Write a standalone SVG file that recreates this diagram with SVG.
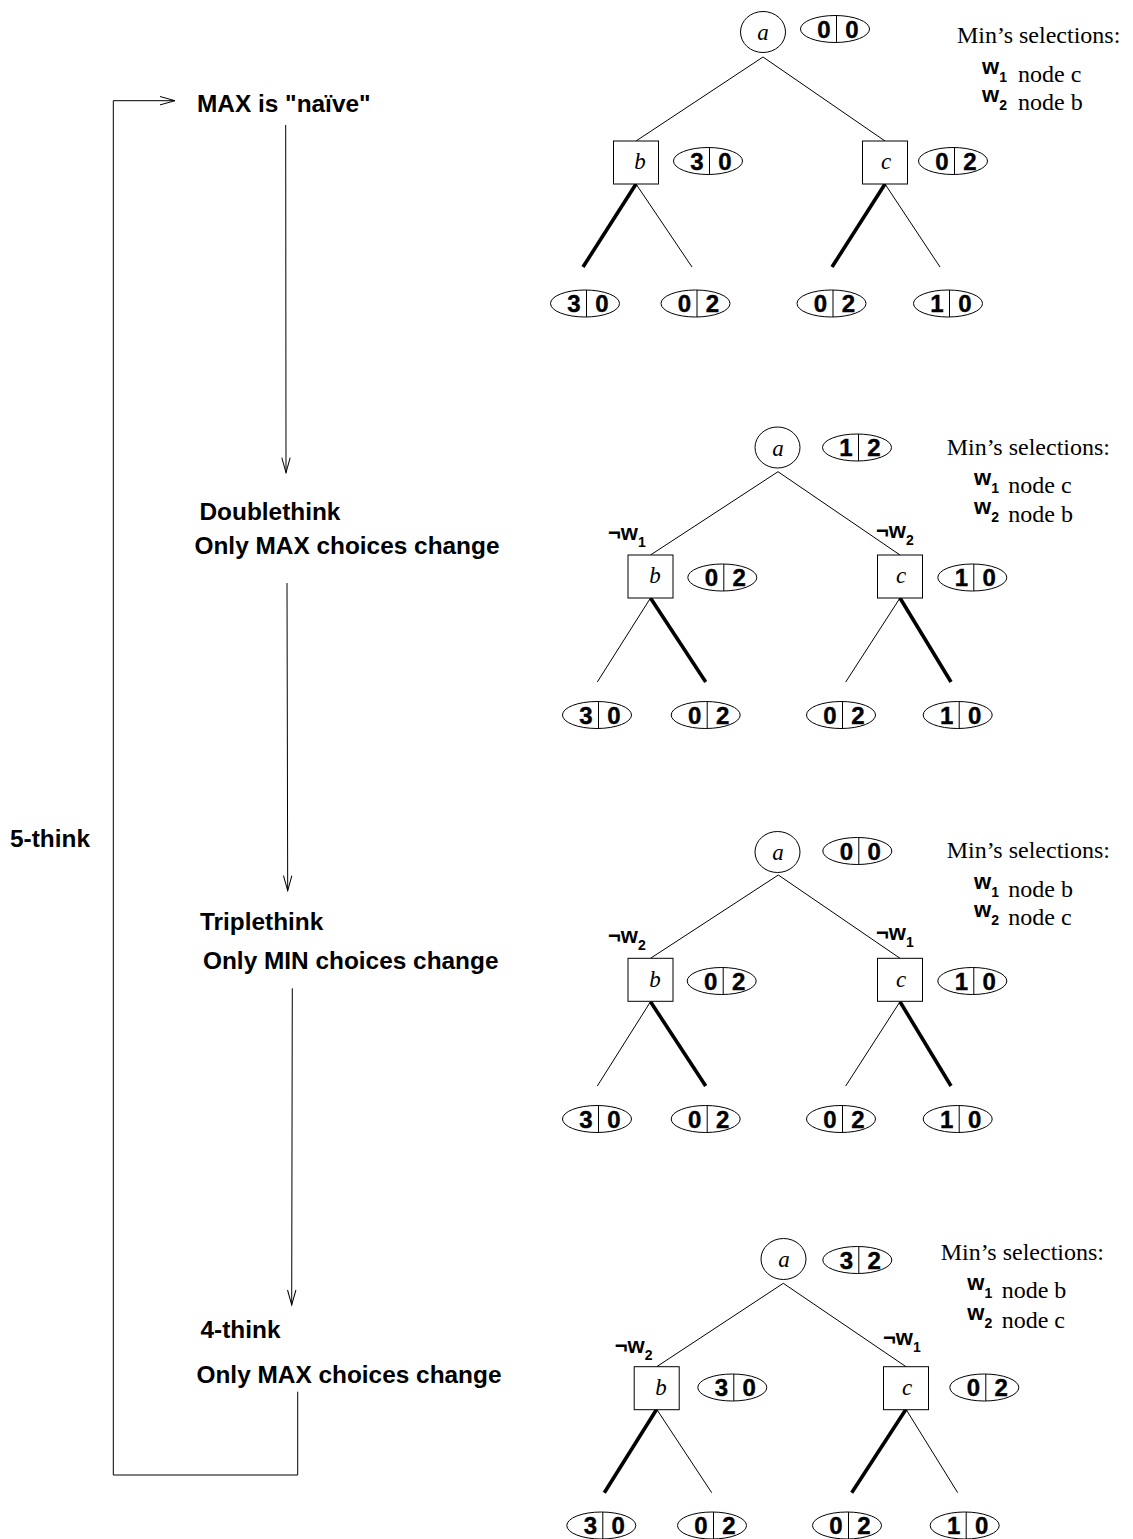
<svg xmlns="http://www.w3.org/2000/svg" xmlns:xlink="http://www.w3.org/1999/xlink" width="1133" height="1539" viewBox="0 0 1133 1539">
<style>
.lab{font-family:"Liberation Sans",Arial,sans-serif;font-weight:bold;font-size:24.4px;fill:#000}
.serif{font-family:"Liberation Serif","Times New Roman",serif;font-size:24px;fill:#000}
.it{font-family:"Liberation Serif","Times New Roman",serif;font-style:italic;font-size:23px;text-anchor:middle;fill:#000}
.val{font-family:"Liberation Sans",Arial,sans-serif;font-weight:bold;font-size:24px;text-anchor:middle;fill:#000;stroke:#000;stroke-width:0.4}
.w{font-family:"Liberation Sans",Arial,sans-serif;font-weight:bold;font-size:22px;fill:#000}
.sub{font-size:14px}
.shape{fill:#fff;stroke:#000;stroke-width:1}
.edge{stroke:#000;stroke-width:1;fill:none}
.sel{stroke:#000;stroke-width:3.6;fill:none}
</style>
<defs>
<marker id="arr" markerUnits="userSpaceOnUse" markerWidth="18" markerHeight="12" viewBox="-16 -6 18 12" refX="0" refY="0" orient="auto">
<path d="M-15,-4.2 L0,0 L-15,4.2" fill="none" stroke="#000" stroke-width="1"/>
</marker>
<ellipse id="oval" cx="0" cy="0" rx="34.5" ry="13.5" class="shape"/>
<line id="div" x1="1.5" y1="-13.5" x2="1.5" y2="13.5" class="edge"/>
<ellipse id="root" cx="0" cy="0" rx="22.5" ry="20.5" class="shape"/>
<rect id="box" x="-22.5" y="0" width="45" height="43" class="shape"/>
</defs>
<rect width="1133" height="1539" fill="#fff"/>

<g id="connectors">
<polyline class="edge" points="297.7,1391.7 297.7,1475 113.3,1475 113.3,100.7 175,100.7" marker-end="url(#arr)"/>
<line class="edge" x1="285.7" y1="125" x2="286" y2="472.7" marker-end="url(#arr)"/>
<line class="edge" x1="287" y1="583" x2="287.7" y2="890.7" marker-end="url(#arr)"/>
<line class="edge" x1="292.3" y1="988.3" x2="291.7" y2="1305" marker-end="url(#arr)"/>
<!-- tree 1 -->
<line class="edge" x1="763" y1="57" x2="636" y2="141"/>
<line class="edge" x1="763" y1="57" x2="885" y2="141"/>
<line class="sel" x1="636" y1="184" x2="583" y2="267"/>
<line class="edge" x1="636" y1="184" x2="692" y2="267"/>
<line class="sel" x1="885" y1="184" x2="832" y2="267"/>
<line class="edge" x1="885" y1="184" x2="940" y2="267"/>
<!-- tree 2 -->
<line class="edge" x1="778" y1="471.7" x2="650.5" y2="555"/>
<line class="edge" x1="778" y1="471.7" x2="900" y2="555"/>
<line class="edge" x1="650.5" y1="598" x2="597.3" y2="682"/>
<line class="sel" x1="650.5" y1="598" x2="705.7" y2="682"/>
<line class="edge" x1="900" y1="598" x2="845.7" y2="682"/>
<line class="sel" x1="900" y1="598" x2="951" y2="682"/>
<!-- tree 3 -->
<line class="edge" x1="778.3" y1="875" x2="650.5" y2="958.3"/>
<line class="edge" x1="778.3" y1="875" x2="900" y2="958.3"/>
<line class="edge" x1="650.5" y1="1001.7" x2="597.3" y2="1086"/>
<line class="sel" x1="650.5" y1="1001.7" x2="705.7" y2="1086"/>
<line class="edge" x1="900" y1="1001.7" x2="845.7" y2="1086"/>
<line class="sel" x1="900" y1="1001.7" x2="951" y2="1086"/>
<!-- tree 4 -->
<line class="edge" x1="783.3" y1="1283.3" x2="656.7" y2="1366.7"/>
<line class="edge" x1="783.3" y1="1283.3" x2="906" y2="1366.7"/>
<line class="sel" x1="656.7" y1="1409.3" x2="604.3" y2="1492.7"/>
<line class="edge" x1="656.7" y1="1409.3" x2="711.7" y2="1492.7"/>
<line class="sel" x1="906" y1="1409.3" x2="851.7" y2="1492.7"/>
<line class="edge" x1="906" y1="1409.3" x2="957.7" y2="1492.7"/>
</g>

<g id="labels">
<text class="lab" x="197" y="111.7">MAX is &quot;naïve&quot;</text>
<text class="lab" x="199.5" y="520">Doublethink</text>
<text class="lab" x="194.5" y="554">Only MAX choices change</text>
<text class="lab" x="200" y="930">Triplethink</text>
<text class="lab" x="203" y="969.3">Only MIN choices change</text>
<text class="lab" x="200.5" y="1338">4-think</text>
<text class="lab" x="196.5" y="1382.7">Only MAX choices change</text>
<text class="lab" x="10" y="846.7">5-think</text>
</g>

<!-- TREE 1 -->
<g id="t1-a"><use xlink:href="#root" x="763" y="32"/><text class="it" x="763" y="40">a</text></g>
<g id="t1-a-val" transform="translate(835,29)"><use xlink:href="#oval"/><use xlink:href="#div"/><text class="val" x="-11" y="8.5">0</text><text class="val" x="17" y="8.5">0</text></g>
<g id="t1-b"><use xlink:href="#box" x="636" y="141"/><text class="it" x="640" y="169">b</text></g>
<g id="t1-b-val" transform="translate(708,161)"><use xlink:href="#oval"/><use xlink:href="#div"/><text class="val" x="-11" y="8.5">3</text><text class="val" x="17" y="8.5">0</text></g>
<g id="t1-c"><use xlink:href="#box" x="885" y="141"/><text class="it" x="886" y="169">c</text></g>
<g id="t1-c-val" transform="translate(953,161)"><use xlink:href="#oval"/><use xlink:href="#div"/><text class="val" x="-11" y="8.5">0</text><text class="val" x="17" y="8.5">2</text></g>
<g id="t1-leaf1" transform="translate(585,303.5)"><use xlink:href="#oval"/><use xlink:href="#div"/><text class="val" x="-11" y="8.5">3</text><text class="val" x="17" y="8.5">0</text></g>
<g id="t1-leaf2" transform="translate(695.5,303.5)"><use xlink:href="#oval"/><use xlink:href="#div"/><text class="val" x="-11" y="8.5">0</text><text class="val" x="17" y="8.5">2</text></g>
<g id="t1-leaf3" transform="translate(831.5,303.5)"><use xlink:href="#oval"/><use xlink:href="#div"/><text class="val" x="-11" y="8.5">0</text><text class="val" x="17" y="8.5">2</text></g>
<g id="t1-leaf4" transform="translate(948,303.5)"><use xlink:href="#oval"/><use xlink:href="#div"/><text class="val" x="-11" y="8.5">1</text><text class="val" x="17" y="8.5">0</text></g>
<g id="t1-min">
<text class="serif" x="957" y="43">Min’s selections:</text>
<text class="w" x="982" y="74">w<tspan class="sub" dy="8">1</tspan></text>
<text class="serif" x="1018" y="82">node c</text>
<text class="w" x="982" y="102">w<tspan class="sub" dy="8">2</tspan></text>
<text class="serif" x="1018" y="110">node b</text>
</g>

<!-- TREE 2 -->
<g id="t2-a"><use xlink:href="#root" x="777.5" y="447.5"/><text class="it" x="778" y="455.5">a</text></g>
<g id="t2-a-val" transform="translate(857,447.5)"><use xlink:href="#oval"/><use xlink:href="#div"/><text class="val" x="-11" y="8.5">1</text><text class="val" x="17" y="8.5">2</text></g>
<g id="t2-b"><use xlink:href="#box" x="650.5" y="555"/><text class="it" x="655" y="583">b</text><text class="w" x="608" y="540">¬w<tspan class="sub" dy="7">1</tspan></text></g>
<g id="t2-b-val" transform="translate(722.3,577.5)"><use xlink:href="#oval"/><use xlink:href="#div"/><text class="val" x="-11" y="8.5">0</text><text class="val" x="17" y="8.5">2</text></g>
<g id="t2-c"><use xlink:href="#box" x="900" y="555"/><text class="it" x="901" y="583">c</text><text class="w" x="876" y="537.7">¬w<tspan class="sub" dy="7">2</tspan></text></g>
<g id="t2-c-val" transform="translate(972.3,577.5)"><use xlink:href="#oval"/><use xlink:href="#div"/><text class="val" x="-11" y="8.5">1</text><text class="val" x="17" y="8.5">0</text></g>
<g id="t2-leaf1" transform="translate(597,715)"><use xlink:href="#oval"/><use xlink:href="#div"/><text class="val" x="-11" y="8.5">3</text><text class="val" x="17" y="8.5">0</text></g>
<g id="t2-leaf2" transform="translate(705.7,715)"><use xlink:href="#oval"/><use xlink:href="#div"/><text class="val" x="-11" y="8.5">0</text><text class="val" x="17" y="8.5">2</text></g>
<g id="t2-leaf3" transform="translate(841,715)"><use xlink:href="#oval"/><use xlink:href="#div"/><text class="val" x="-11" y="8.5">0</text><text class="val" x="17" y="8.5">2</text></g>
<g id="t2-leaf4" transform="translate(957.7,715)"><use xlink:href="#oval"/><use xlink:href="#div"/><text class="val" x="-11" y="8.5">1</text><text class="val" x="17" y="8.5">0</text></g>
<g id="t2-min">
<text class="serif" x="946.7" y="455">Min’s selections:</text>
<text class="w" x="974" y="485.3">w<tspan class="sub" dy="8">1</tspan></text>
<text class="serif" x="1008.3" y="493.3">node c</text>
<text class="w" x="974" y="513.7">w<tspan class="sub" dy="8">2</tspan></text>
<text class="serif" x="1008.3" y="521.7">node b</text>
</g>

<!-- TREE 3 -->
<g id="t3-a"><use xlink:href="#root" x="777.5" y="852"/><text class="it" x="778" y="860">a</text></g>
<g id="t3-a-val" transform="translate(857.3,851)"><use xlink:href="#oval"/><use xlink:href="#div"/><text class="val" x="-11" y="8.5">0</text><text class="val" x="17" y="8.5">0</text></g>
<g id="t3-b"><use xlink:href="#box" x="650.5" y="958.3"/><text class="it" x="655" y="986.5">b</text><text class="w" x="608" y="943.3">¬w<tspan class="sub" dy="7">2</tspan></text></g>
<g id="t3-b-val" transform="translate(721.7,981)"><use xlink:href="#oval"/><use xlink:href="#div"/><text class="val" x="-11" y="8.5">0</text><text class="val" x="17" y="8.5">2</text></g>
<g id="t3-c"><use xlink:href="#box" x="900" y="958.3"/><text class="it" x="901" y="986.5">c</text><text class="w" x="876" y="939.5">¬w<tspan class="sub" dy="7">1</tspan></text></g>
<g id="t3-c-val" transform="translate(972.3,981)"><use xlink:href="#oval"/><use xlink:href="#div"/><text class="val" x="-11" y="8.5">1</text><text class="val" x="17" y="8.5">0</text></g>
<g id="t3-leaf1" transform="translate(597,1119)"><use xlink:href="#oval"/><use xlink:href="#div"/><text class="val" x="-11" y="8.5">3</text><text class="val" x="17" y="8.5">0</text></g>
<g id="t3-leaf2" transform="translate(705.7,1119)"><use xlink:href="#oval"/><use xlink:href="#div"/><text class="val" x="-11" y="8.5">0</text><text class="val" x="17" y="8.5">2</text></g>
<g id="t3-leaf3" transform="translate(841,1119)"><use xlink:href="#oval"/><use xlink:href="#div"/><text class="val" x="-11" y="8.5">0</text><text class="val" x="17" y="8.5">2</text></g>
<g id="t3-leaf4" transform="translate(957.7,1119)"><use xlink:href="#oval"/><use xlink:href="#div"/><text class="val" x="-11" y="8.5">1</text><text class="val" x="17" y="8.5">0</text></g>
<g id="t3-min">
<text class="serif" x="946.7" y="858.3">Min’s selections:</text>
<text class="w" x="974" y="888.7">w<tspan class="sub" dy="8">1</tspan></text>
<text class="serif" x="1008.3" y="896.7">node b</text>
<text class="w" x="974" y="917">w<tspan class="sub" dy="8">2</tspan></text>
<text class="serif" x="1008.3" y="925">node c</text>
</g>

<!-- TREE 4 -->
<g id="t4-a"><use xlink:href="#root" x="783.5" y="1259"/><text class="it" x="784" y="1267">a</text></g>
<g id="t4-a-val" transform="translate(857.3,1260)"><use xlink:href="#oval"/><use xlink:href="#div"/><text class="val" x="-11" y="8.5">3</text><text class="val" x="17" y="8.5">2</text></g>
<g id="t4-b"><use xlink:href="#box" x="656.7" y="1366.7"/><text class="it" x="661" y="1395">b</text><text class="w" x="614.7" y="1353.3">¬w<tspan class="sub" dy="7">2</tspan></text></g>
<g id="t4-b-val" transform="translate(732.3,1387.5)"><use xlink:href="#oval"/><use xlink:href="#div"/><text class="val" x="-11" y="8.5">3</text><text class="val" x="17" y="8.5">0</text></g>
<g id="t4-c"><use xlink:href="#box" x="906" y="1366.7"/><text class="it" x="907" y="1395">c</text><text class="w" x="883" y="1345">¬w<tspan class="sub" dy="7">1</tspan></text></g>
<g id="t4-c-val" transform="translate(984.3,1387.5)"><use xlink:href="#oval"/><use xlink:href="#div"/><text class="val" x="-11" y="8.5">0</text><text class="val" x="17" y="8.5">2</text></g>
<g id="t4-leaf1" transform="translate(601.3,1525.5)"><use xlink:href="#oval"/><use xlink:href="#div"/><text class="val" x="-11" y="8.5">3</text><text class="val" x="17" y="8.5">0</text></g>
<g id="t4-leaf2" transform="translate(712,1525.5)"><use xlink:href="#oval"/><use xlink:href="#div"/><text class="val" x="-11" y="8.5">0</text><text class="val" x="17" y="8.5">2</text></g>
<g id="t4-leaf3" transform="translate(847,1525.5)"><use xlink:href="#oval"/><use xlink:href="#div"/><text class="val" x="-11" y="8.5">0</text><text class="val" x="17" y="8.5">2</text></g>
<g id="t4-leaf4" transform="translate(964.7,1525.5)"><use xlink:href="#oval"/><use xlink:href="#div"/><text class="val" x="-11" y="8.5">1</text><text class="val" x="17" y="8.5">0</text></g>
<g id="t4-min">
<text class="serif" x="940.7" y="1260">Min’s selections:</text>
<text class="w" x="967.3" y="1290.3">w<tspan class="sub" dy="8">1</tspan></text>
<text class="serif" x="1001.7" y="1298.3">node b</text>
<text class="w" x="967.3" y="1320.3">w<tspan class="sub" dy="8">2</tspan></text>
<text class="serif" x="1001.7" y="1328.3">node c</text>
</g>
</svg>
